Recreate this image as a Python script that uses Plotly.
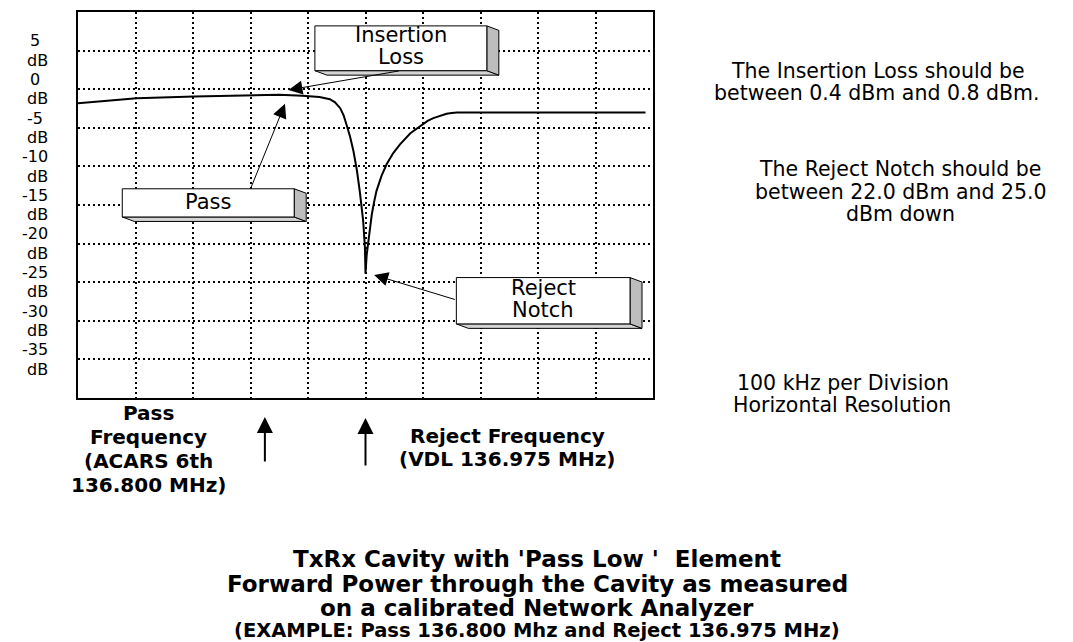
import plotly.graph_objects as go

# ---------------- data ----------------
freq_mhz = [136.475, 136.577, 136.677, 136.777, 136.825, 136.865, 136.895, 136.913,
            136.922, 136.931, 136.937, 136.942, 136.948, 136.954, 136.960, 136.965,
            136.968, 136.971, 136.974, 136.975, 136.977, 136.980, 136.983, 136.986,
            136.990, 136.994, 137.003, 137.012, 137.023, 137.035, 137.053, 137.073,
            137.083, 137.093, 137.105, 137.116, 137.125, 137.134, 137.462]
response_db = [-1.82, -1.17, -0.95, -0.75, -0.73, -0.85, -1.0, -1.3,
               -1.7, -2.46, -3.4, -4.6, -6.1, -8.0, -10.5, -13.2,
               -15.0, -17.1, -20.5, -23.9, -21.5, -19.6, -17.8, -16.2,
               -14.6, -13.2, -11.2, -9.7, -8.3, -7.14, -5.7, -4.6,
               -4.1, -3.75, -3.4, -3.18, -3.07, -3.02, -3.02]

pass_freq_mhz = 136.800
reject_freq_mhz = 136.975
x_start_mhz = 136.475
div_mhz = 0.1
n_div = 10
y_range_db = [-40, 10]
y_ticks_db = [5, 0, -5, -10, -15, -20, -25, -30, -35]
y_tick_labels = ["5", "0", "-5", "-10", "-15", "-20", "-25", "-30", "-35"]
y_unit = "dB"

# ---------------- layout helpers ----------------
# the page body has an 8px margin, so the figure is drawn 8px smaller
PAGE_OFF = 8
W, H = 1073 - PAGE_OFF, 642 - PAGE_OFF
PL, PT, PR, PB = 78, 10, 653, 398          # plot box in page pixels
L, T = PL - PAGE_OFF, PT - PAGE_OFF
PW, PH = PR - PL, PB - PT
R, B = W - L - PW, H - T - PH
FONT = "DejaVu Sans"


def px_x(px):
    return (px - PL) / PW


def px_y(py):
    return (PB - py) / PH


x_end_mhz = x_start_mhz + n_div * div_mhz
mhz_per_px = (x_end_mhz - x_start_mhz) / PW
db_per_px = (y_range_db[1] - y_range_db[0]) / PH

fig = go.Figure()
fig.add_trace(go.Scatter(x=freq_mhz, y=response_db, mode="lines",
                         line=dict(color="black", width=2), hoverinfo="skip",
                         showlegend=False))

annotations = []
shapes = []


def text_ann(txt, x, y, size, bold=False, xref="paper", yref="paper"):
    annotations.append(dict(text=("<b>%s</b>" % txt) if bold else txt, x=x, y=y,
                            xref=xref, yref=yref, showarrow=False,
                            xanchor="center", yanchor="middle",
                            font=dict(family=FONT, size=size, color="black")))


# y tick labels (two lines: value / unit), evenly stacked like the original
half_step = (y_ticks_db[0] - y_ticks_db[1]) / 4
for v, lab in zip(y_ticks_db, y_tick_labels):
    text_ann(lab, px_x(35), v + half_step, 16, yref="y")
    text_ann(y_unit, px_x(37), v - half_step, 16, yref="y")

# callout boxes with 3D shading
dx = 12 * mhz_per_px
dy = 4.5 * db_per_px
callouts = [
    dict(x0=136.887, x1=137.186, top=8.2, bot=2.4, lines=["Insertion", "Loss"],
         line_y=[7.04, 4.2], tail=(137.036, 2.4), head=(136.841, -0.1)),
    dict(x0=136.552, x1=136.851, top=-12.9, bot=-16.55, lines=["Pass"],
         line_y=[-14.6], tail=(136.775, -12.9), head=(136.835, -1.9)),
    dict(x0=137.133, x1=137.435, top=-24.4, bot=-30.4, lines=["Reject", "Notch"],
         line_y=[-25.7, -28.66], tail=(137.133, -27.3), head=(136.990, -24.06)),
]
for c in callouts:
    x0, x1, t, b = c["x0"], c["x1"], c["top"], c["bot"]
    shapes.append(dict(type="path", xref="x", yref="y", layer="above",
                       path="M%f,%f L%f,%f L%f,%f L%f,%f Z" % (x0, b, x1, b, x1 + dx, b - dy, x0 + dx, b - dy),
                       fillcolor="#d4d4d4", line=dict(color="black", width=1)))
    shapes.append(dict(type="path", xref="x", yref="y", layer="above",
                       path="M%f,%f L%f,%f L%f,%f L%f,%f Z" % (x1, t, x1 + dx, t - dy, x1 + dx, b - dy, x1, b),
                       fillcolor="#bdbdbd", line=dict(color="black", width=1)))
    shapes.append(dict(type="rect", xref="x", yref="y", layer="above",
                       x0=x0, x1=x1, y0=b, y1=t, fillcolor="white",
                       line=dict(color="black", width=1)))
    cx = (x0 + x1) / 2
    for txt, ly in zip(c["lines"], c["line_y"]):
        text_ann(txt, cx, ly, 21, xref="x", yref="y")
    annotations.append(dict(text="", x=c["head"][0], y=c["head"][1], xref="x", yref="y",
                            ax=c["tail"][0], ay=c["tail"][1], axref="x", ayref="y",
                            showarrow=True, arrowhead=2, arrowsize=2.8, arrowwidth=1,
                            arrowcolor="black", standoff=0))

# frequency arrows below the plot
for f, ytip, length in [(pass_freq_mhz, 417, 46), (reject_freq_mhz, 418, 49)]:
    annotations.append(dict(text="", x=f, y=px_y(ytip), xref="x", yref="paper",
                            ax=0, ay=length, axref="pixel", ayref="pixel",
                            showarrow=True, arrowhead=2, arrowsize=1.6, arrowwidth=2,
                            arrowcolor="black", standoff=0))

# bottom-left text
for txt, py in [("Pass", 413), ("Frequency", 437), ("(ACARS 6th", 461), ("136.800 MHz)", 485)]:
    text_ann(txt, px_x(148), px_y(py), 20, bold=True)
for txt, py in [("Reject Frequency", 436), ("(VDL 136.975 MHz)", 459)]:
    text_ann(txt, px_x(507), px_y(py), 20, bold=True)

# right-side notes
for txt, px, py in [("The Insertion Loss should be", 878, 69),
                    ("between 0.4 dBm and 0.8 dBm.", 877, 91.5),
                    ("The Reject Notch should be", 900, 168),
                    ("between 22.0 dBm and 25.0", 901, 190.5),
                    ("dBm down", 900, 213),
                    ("100 kHz per Division", 843, 383),
                    ("Horizontal Resolution", 842, 405.5)]:
    text_ann(txt, px_x(px), px_y(py), 20.5)

# title
for txt, py, sz in [("TxRx Cavity with 'Pass Low '  Element", 560, 23),
                    ("Forward Power through the Cavity as measured", 585, 23),
                    ("on a calibrated Network Analyzer", 609, 23),
                    ("(EXAMPLE: Pass 136.800 Mhz and Reject 136.975 MHz)", 632, 19.5)]:
    text_ann(txt, px_x(537), px_y(py), sz, bold=True)

fig.update_layout(
    width=W, height=H, margin=dict(l=L, r=R, t=T, b=B, pad=0),
    paper_bgcolor="white", plot_bgcolor="white", showlegend=False,
    annotations=annotations, shapes=shapes,
    xaxis=dict(range=[x_start_mhz, x_end_mhz], tick0=x_start_mhz, dtick=div_mhz,
               showgrid=True, gridcolor="black", gridwidth=2, griddash="2px,3px",
               showticklabels=False, ticks="", zeroline=False,
               showline=True, linecolor="black", linewidth=2, mirror=True,
               fixedrange=True),
    yaxis=dict(range=y_range_db, tick0=0, dtick=5,
               showgrid=True, gridcolor="black", gridwidth=2, griddash="2px,3px",
               showticklabels=False, ticks="", zeroline=False,
               showline=True, linecolor="black", linewidth=2, mirror=True,
               fixedrange=True),
)

fig.write_html("out.html", config={"displayModeBar": False})
